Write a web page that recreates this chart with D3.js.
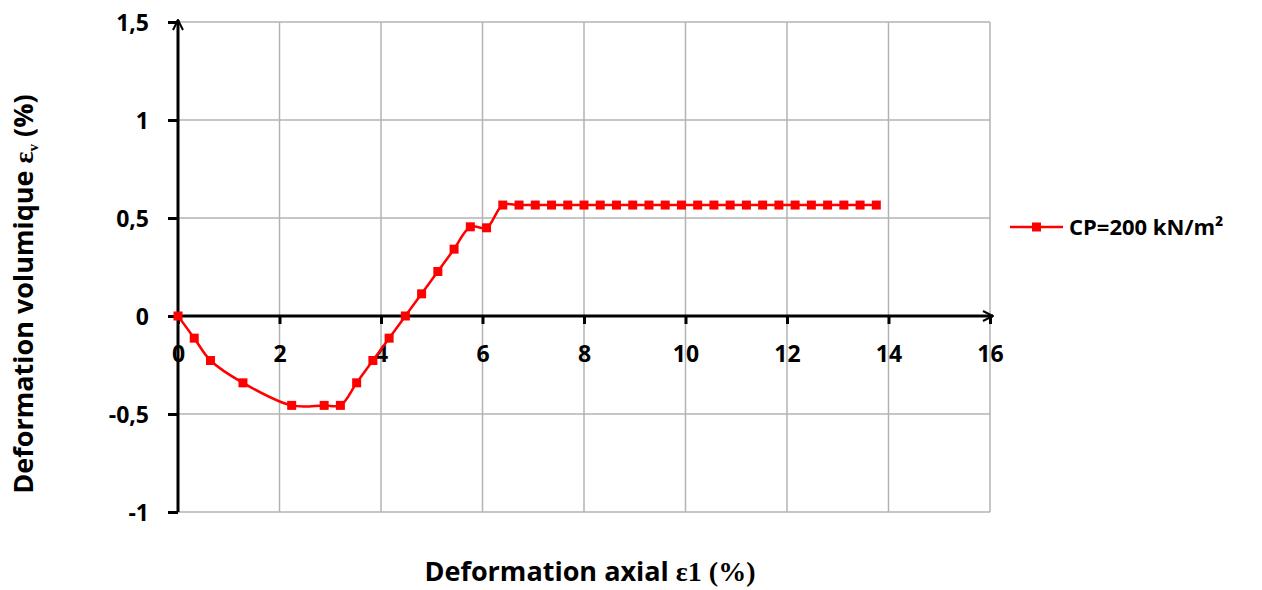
<!DOCTYPE html>
<html>
<head>
<meta charset="utf-8">
<script src="https://cdn.jsdelivr.net/npm/d3@7"></script>
<style>
  html, body { margin: 0; padding: 0; background: #fff; }
  svg { display: block; }
  .lbl { font-family: "Open Sans", "Liberation Sans", sans-serif; font-weight: bold; fill: #000; }
</style>
</head>
<body>
<svg id="chart" width="1262" height="590"></svg>
<script>
// Axial strain (%) and volumetric strain (%) for CP = 200 kN/m²
const strainAxial = [0, 0.32, 0.64, 1.28, 2.24, 2.88, 3.2, 3.52, 3.84, 4.16, 4.48, 4.8, 5.12, 5.44, 5.76, 6.08,
  6.4, 6.72, 7.04, 7.36, 7.68, 8.0, 8.32, 8.64, 8.96, 9.28, 9.6, 9.92, 10.24, 10.56, 10.88, 11.2,
  11.52, 11.84, 12.16, 12.48, 12.8, 13.12, 13.44, 13.76];
const strainVolume = [0, -0.113, -0.227, -0.341, -0.456, -0.456, -0.456, -0.341, -0.227, -0.113, 0, 0.113, 0.227, 0.341, 0.455, 0.45,
  0.566, 0.566, 0.566, 0.566, 0.566, 0.566, 0.566, 0.566, 0.566, 0.566, 0.566, 0.566, 0.566, 0.566, 0.566, 0.566,
  0.566, 0.566, 0.566, 0.566, 0.566, 0.566, 0.566, 0.566];
const seriesName = "CP=200 kN/m²";
const xTicks = [0, 2, 4, 6, 8, 10, 12, 14, 16];
const yTicks = [-1, -0.5, 0, 0.5, 1, 1.5];

const svg = d3.select("#chart");
const x = d3.scaleLinear().domain([0, 16]).range([178, 990]);
const y = d3.scaleLinear().domain([-1, 1.5]).range([512, 22]);
const fmt = v => String(v).replace(".", ",");

// gridlines
const grid = svg.append("g");
grid.selectAll(".gx").data(xTicks.slice(1)).join("line")
  .attr("x1", d => x(d)).attr("x2", d => x(d))
  .attr("y1", y(1.5)).attr("y2", y(-1))
  .attr("stroke", "#b3b3b3").attr("stroke-width", 1.5);
grid.selectAll(".gy").data(yTicks).join("line")
  .attr("x1", x(0)).attr("x2", x(16))
  .attr("y1", d => y(d)).attr("y2", d => y(d))
  .attr("stroke", "#b3b3b3").attr("stroke-width", 1.5);

// arrow marker
svg.append("defs").append("marker")
  .attr("id", "arrow").attr("viewBox", "0 0 12 12")
  .attr("refX", 11).attr("refY", 6)
  .attr("markerWidth", 12).attr("markerHeight", 12)
  .attr("markerUnits", "userSpaceOnUse")
  .attr("orient", "auto")
  .append("path").attr("d", "M1,1 L11,6 L1,11")
  .attr("fill", "none").attr("stroke", "#000").attr("stroke-width", 2);

// y axis
const yAxis = d3.axisLeft(y).tickValues(yTicks).tickSize(10).tickFormat(fmt);
const gy = svg.append("g").attr("transform", `translate(${x(0)},0)`).call(yAxis);
gy.select(".domain").remove();
gy.selectAll(".tick line").attr("stroke", "#000").attr("stroke-width", 3);
gy.selectAll(".tick text").attr("class", "lbl").attr("font-size", 23).attr("x", -29).attr("dy", "0.35em");
svg.append("line")
  .attr("x1", x(0)).attr("x2", x(0)).attr("y1", y(-1)).attr("y2", y(1.5) - 2)
  .attr("stroke", "#000").attr("stroke-width", 3).attr("marker-end", "url(#arrow)");

// x axis crossing at zero
const xAxis = d3.axisBottom(x).tickValues(xTicks).tickSize(8).tickFormat(fmt);
const gx = svg.append("g").attr("transform", `translate(0,${y(0)})`).call(xAxis);
gx.select(".domain").remove();
gx.selectAll(".tick line").attr("stroke", "#000").attr("stroke-width", 3);
gx.selectAll(".tick text").attr("class", "lbl").attr("font-size", 23).attr("y", 38).attr("dy", "0.35em");
svg.append("line")
  .attr("x1", x(0)).attr("x2", x(16) + 3).attr("y1", y(0)).attr("y2", y(0))
  .attr("stroke", "#000").attr("stroke-width", 3).attr("marker-end", "url(#arrow)");

// series
const pts = strainAxial.map((d, i) => [d, strainVolume[i]]);
const line = d3.line().x(d => x(d[0])).y(d => y(d[1])).curve(d3.curveCatmullRom.alpha(0.5));
svg.append("path").datum(pts).attr("d", line)
  .attr("fill", "none").attr("stroke", "#ff0000").attr("stroke-width", 2.5);
svg.selectAll(".pt").data(pts).join("rect")
  .attr("x", d => x(d[0]) - 4.5).attr("y", d => y(d[1]) - 4.5)
  .attr("width", 9).attr("height", 9).attr("fill", "#ff0000");

// legend
const lg = svg.append("g").attr("transform", "translate(1010,227)");
lg.append("line").attr("x1", 0).attr("x2", 53).attr("y1", 0).attr("y2", 0)
  .attr("stroke", "#ff0000").attr("stroke-width", 2.5);
lg.append("rect").attr("x", 22).attr("y", -4.5).attr("width", 9).attr("height", 9).attr("fill", "#ff0000");
lg.append("text").attr("class", "lbl").attr("x", 59).attr("y", 0).attr("dy", "0.35em")
  .attr("font-size", 22).text(seriesName);

// x axis title
const xt = svg.append("text").attr("class", "lbl").attr("x", 590).attr("y", 581)
  .attr("text-anchor", "middle").attr("font-size", 27);
xt.append("tspan").text("Deformation axial ");
xt.append("tspan").attr("font-family", "Liberation Serif, serif").attr("font-size", 28).text("ε1 (%)");

// y axis title
const yt = svg.append("text").attr("class", "lbl")
  .attr("transform", "translate(33,294) rotate(-90)")
  .attr("text-anchor", "middle").attr("font-size", 27);
yt.append("tspan").text("Deformation volumique ");
yt.append("tspan").attr("font-family", "Liberation Serif, serif").attr("font-size", 28).text("ε");
yt.append("tspan").attr("font-family", "Liberation Serif, serif").attr("font-size", 15).attr("dy", 5).text("v");
yt.append("tspan").attr("dy", -5).text(" (%)");
</script>
</body>
</html>
